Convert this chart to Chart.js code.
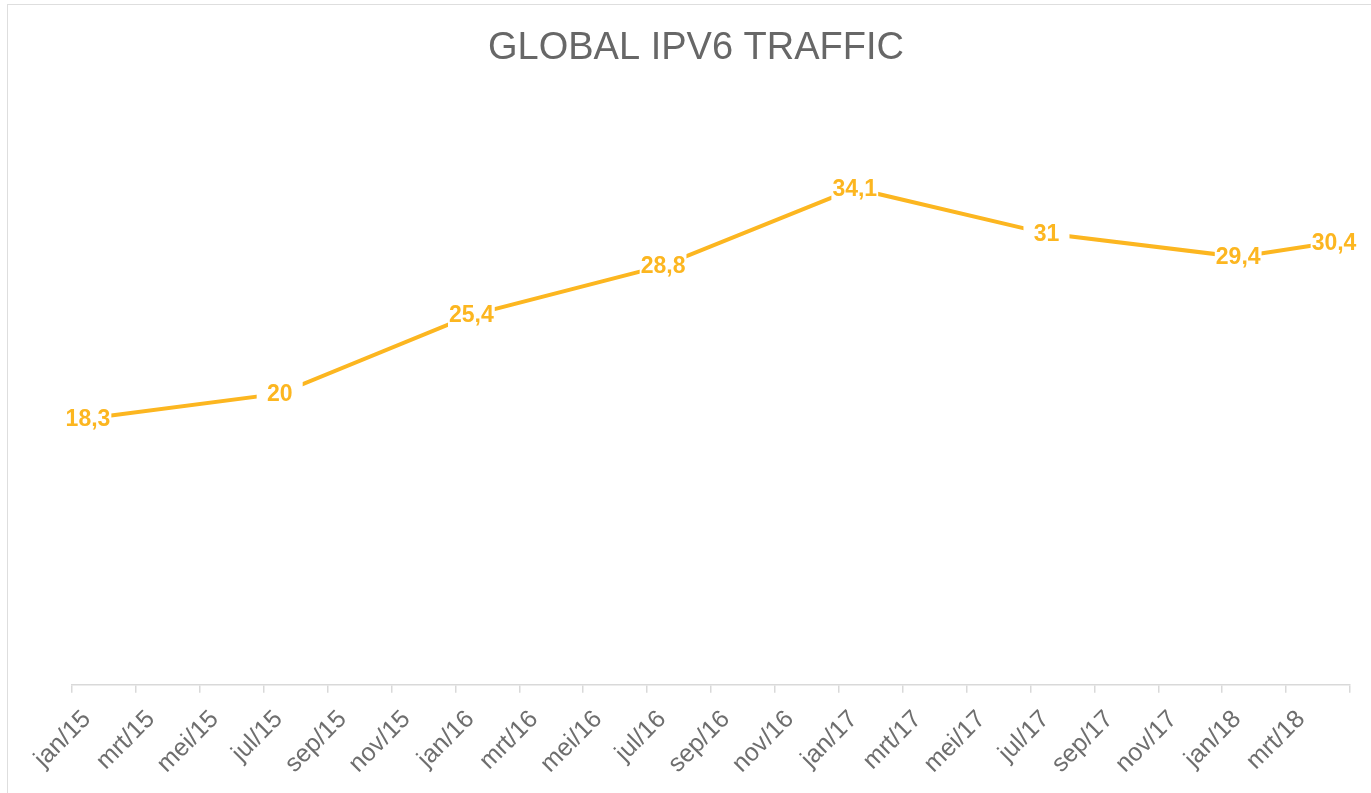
<!DOCTYPE html>
<html>
<head>
<meta charset="utf-8">
<script src="https://cdn.jsdelivr.net/npm/chart.js@4.4.1/dist/chart.umd.min.js"></script>
<style>
  html, body { margin: 0; padding: 0; background: #fff; }
  #wrap { position: relative; width: 1371px; height: 793px; overflow: hidden; }
  #frame { position: absolute; left: 7px; top: 4px; width: 1400px; height: 900px; border: 1.5px solid #dedede; box-sizing: border-box; }
  #c { position: absolute; left: 0; top: 0; }
</style>
</head>
<body>
<div id="wrap">
  <div id="frame"></div>
  <canvas id="c" width="1371" height="793"></canvas>
</div>
<script>
// Month sequence of the date axis (Dutch abbreviations), jan/15 .. apr/18
const months = [
  'jan/15','feb/15','mrt/15','apr/15','mei/15','jun/15','jul/15','aug/15','sep/15','okt/15','nov/15','dec/15',
  'jan/16','feb/16','mrt/16','apr/16','mei/16','jun/16','jul/16','aug/16','sep/16','okt/16','nov/16','dec/16',
  'jan/17','feb/17','mrt/17','apr/17','mei/17','jun/17','jul/17','aug/17','sep/17','okt/17','nov/17','dec/17',
  'jan/18','feb/18','mrt/18','apr/18'
];
// Tick labels shown on the axis (every second month)
const tickLabels = ['jan/15','mrt/15','mei/15','jul/15','sep/15','nov/15','jan/16','mrt/16','mei/16','jul/16',
  'sep/16','nov/16','jan/17','mrt/17','mei/17','jul/17','sep/17','nov/17','jan/18','mrt/18'];
// Observation months and values
const pointMonths = ['jan/15','jul/15','jan/16','jul/16','jan/17','jul/17','jan/18','apr/18'];
const trafficValues = [18.3, 20, 25.4, 28.8, 34.1, 31, 29.4, 30.4];

const LINE_COLOR = '#FCB620';
const FONT = "'Liberation Sans', Arial, Helvetica, sans-serif";

// Points sit in the middle of their month cell on the date axis
const points = pointMonths.map((m, i) => ({ x: months.indexOf(m) + 0.5, y: trafficValues[i] }));

const fmt = v => String(v).replace('.', ',');

const dataLabelPlugin = {
  id: 'dataLabels',
  afterDatasetsDraw(chart) {
    const ctx = chart.ctx;
    const meta = chart.getDatasetMeta(0);
    ctx.save();
    ctx.font = 'bold 23px ' + FONT;
    ctx.textAlign = 'center';
    ctx.textBaseline = 'middle';
    meta.data.forEach((el, i) => {
      const txt = fmt(trafficValues[i]);
      const w = Math.max(ctx.measureText(txt).width, 44) + 2;
      ctx.fillStyle = '#ffffff';
      ctx.fillRect(el.x - w / 2, el.y - 13, w, 26);
      ctx.fillStyle = LINE_COLOR;
      ctx.fillText(txt, el.x, el.y + 1);
    });
    ctx.restore();
  }
};

new Chart(document.getElementById('c'), {
  type: 'line',
  data: {
    datasets: [{
      data: points,
      borderColor: LINE_COLOR,
      borderWidth: 4,
      pointRadius: 0,
      tension: 0,
      fill: false
    }]
  },
  options: {
    responsive: false,
    animation: false,
    events: [],
    layout: { padding: { left: 42, right: 21, top: 0, bottom: 2 } },
    plugins: {
      legend: { display: false },
      tooltip: { enabled: false },
      title: {
        display: true,
        text: 'GLOBAL IPV6 TRAFFIC',
        color: '#676767',
        font: { family: FONT, size: 38, weight: 'normal' },
        padding: { top: 26, bottom: 31 }
      }
    },
    scales: {
      x: {
        type: 'linear',
        min: 0,
        max: months.length,
        afterFit: (scale) => { scale.paddingRight = 0; },
        ticks: {
          stepSize: 2,
          autoSkip: false,
          minRotation: 45,
          maxRotation: 45,
          color: '#6e6e6e',
          font: { family: FONT, size: 25 },
          padding: 12,
          labelOffset: 15,
          callback: (v) => {
            const lbl = tickLabels[v / 2];
            return lbl === undefined ? '' : lbl;
          }
        },
        grid: {
          drawOnChartArea: false,
          drawTicks: true,
          tickLength: 8,
          color: '#d9d9d9',
          lineWidth: 1.5
        },
        border: { display: true, color: '#d9d9d9', width: 1.5 }
      },
      y: {
        display: true,
        min: 0,
        max: 40,
        ticks: { display: false },
        grid: { display: false, drawTicks: false },
        border: { display: false },
        afterFit: (scale) => { scale.width = 30; }
      }
    }
  },
  plugins: [dataLabelPlugin]
});
</script>
</body>
</html>
